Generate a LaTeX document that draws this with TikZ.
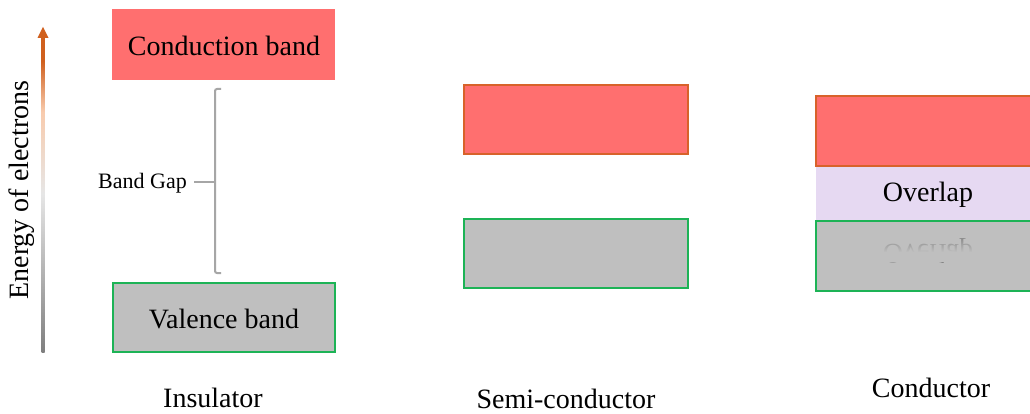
\documentclass[tikz,border=0pt]{standalone}
\usepackage{fontspec}
\setmainfont{Liberation Serif}
\usetikzlibrary{fadings}
\definecolor{cband}{HTML}{FF6F6F}
\definecolor{cedge}{HTML}{D8622A}
\definecolor{vband}{HTML}{BFBFBF}
\definecolor{vedge}{HTML}{1DB356}
\definecolor{ovl}{HTML}{E6D9F2}
\definecolor{brc}{HTML}{A6A6A6}
\definecolor{arrtop}{HTML}{D0601E}
\definecolor{arrpeach}{HTML}{F8CBAD}
\definecolor{arrmid}{HTML}{E6E6E6}
\definecolor{arrbot}{HTML}{7F7F7F}
\pgfdeclareverticalshading{energyshade}{100bp}{color(0bp)=(arrbot); color(25bp)=(arrbot); color(50bp)=(arrmid); color(63bp)=(arrpeach); color(71bp)=(arrtop); color(100bp)=(arrtop)}
\tikzset{
  big/.style={font=\fontsize{28}{32}\selectfont},
  small/.style={font=\fontsize{22}{26}\selectfont},
  cbox/.style={fill=cband, draw=cedge, line width=1.2pt},
  vbox/.style={fill=vband, draw=vedge, line width=1.5pt},
}
\begin{document}
\begin{tikzpicture}[x=1pt,y=-1pt]
\useasboundingbox[fill=white] (0,0) rectangle (1030,414);
% energy arrow
\shade[shading=energyshade] (41.5,36) rectangle (44.5,352);
\coordinate (atip) at (43,27);
\fill[arrtop] (atip) -- (48.5,38) -- (37.5,38) -- cycle;
\node[big, rotate=90] (energy) at (22,190) {Energy of electrons};
% insulator
\fill[cband] (112,9) rectangle (335,80);
\node[big] (cb) at (224,46) {Conduction band};
\draw[vbox] (113,283) rectangle (335,352);
\node[big] (vb) at (224,319) {Valence band};
\draw[brc, line width=2pt, rounded corners=2pt] (221,89) -- (215,89) -- (215,273) -- (221,273);
\coordinate (bmid) at (215,182);
\node[small, anchor=east, inner sep=2pt] (gap) at (189,183) {Band Gap};
\draw[brc, line width=2pt] (bmid) -- (194,182);
\node[big] (ins) at (213,398) {Insulator};
% semiconductor
\draw[cbox] (464,85) rectangle (688,154);
\draw[vbox] (464,219) rectangle (688,288);
\node[big] (semi) at (566,399) {Semi-conductor};
% conductor
\fill[ovl] (816,166) rectangle (1031,221);
\draw[cbox] (816,96) rectangle (1032,166);
\draw[vbox] (816,221) rectangle (1032,291);
\node[big] (ovl) at (928,195) {Overlap};
\begin{scope}
\clip (817,222) rectangle (1030,262);
\node[big, yscale=-1, opacity=0.3] (refl) at (928,251) {Overlap};
\fill[vband, path fading=north] (817,236) rectangle (1030,252);
\fill[vband] (817,252) rectangle (1030,262);
\end{scope}
\node[big] (cond) at (931,388) {Conductor};
\end{tikzpicture}
\end{document}
